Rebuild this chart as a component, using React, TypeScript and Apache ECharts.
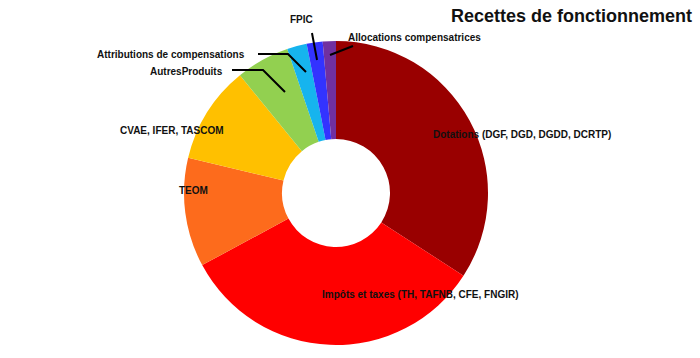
import React, { useEffect, useRef } from "react";
import * as echarts from "echarts";

const title = "Recettes de fonctionnement";
const categories = [
  "Dotations (DGF, DGD, DGDD, DCRTP)",
  "Impôts et taxes (TH, TAFNB, CFE, FNGIR)",
  "TEOM",
  "CVAE, IFER, TASCOM",
  "AutresProduits",
  "Attributions de compensations",
  "FPIC",
  "Allocations compensatrices",
];
const values = [34.2, 33.0, 11.6, 10.4, 5.7, 2.1, 1.7, 1.4];

const colors = ["#990000", "#ff0000", "#fd6b1c", "#ffc000", "#92d050", "#16b4ee", "#3333ff", "#7030a0"];
// label anchor (left, middle)
const labelPos: [number, number][] = [
  [433, 134],
  [322, 294],
  [179, 190],
  [120, 130],
  [150, 71],
  [97, 54],
  [290, 19],
  [348, 37],
];
// leader lines (styling / annotation geometry)
const leaderLines: number[][][] = [
  [[232, 70], [263, 70], [285, 92]],
  [[258, 54], [288, 54], [306, 72]],
  [[312, 33], [317, 60]],
  [[353, 46], [330, 55]],
];

export default function App() {
  const ref = useRef<HTMLDivElement>(null);
  useEffect(() => {
    if (!ref.current) return;
    const chart = echarts.init(ref.current, null, { renderer: "svg" });
    const font = "Liberation Sans";
    chart.setOption({
      animation: false,
      backgroundColor: "#ffffff",
      title: {
        text: title,
        right: 3,
        top: 2,
        textStyle: { fontFamily: font, fontSize: 18, fontWeight: "bold", color: "#111" },
      },
      graphic: leaderLines.map((pts) => ({
        type: "polyline",
        z: 100,
        shape: { points: pts },
        style: { stroke: "#000", lineWidth: 2, fill: null },
      })),
      series: [
        {
          type: "pie",
          center: [336, 193],
          radius: [54, 152],
          startAngle: 90,
          clockwise: true,
          avoidLabelOverlap: false,
          data: categories.map((name, i) => ({
            name,
            value: values[i],
            itemStyle: { color: colors[i] },
          })),
          label: {
            show: true,
            formatter: "{b}",
            position: "outside",
            fontFamily: font,
            fontSize: 10,
            fontWeight: "bold",
            color: "#111",
          },
          labelLine: { show: false },
          labelLayout: (params: any) => {
            const p = labelPos[params.dataIndex];
            return { x: p[0], y: p[1], align: "left", verticalAlign: "middle" };
          },
        },
      ],
    });
    return () => chart.dispose();
  }, []);
  return (
    <div
      ref={ref}
      style={{ position: "absolute", left: 0, top: 0, width: 700, height: 358 }}
    />
  );
}
